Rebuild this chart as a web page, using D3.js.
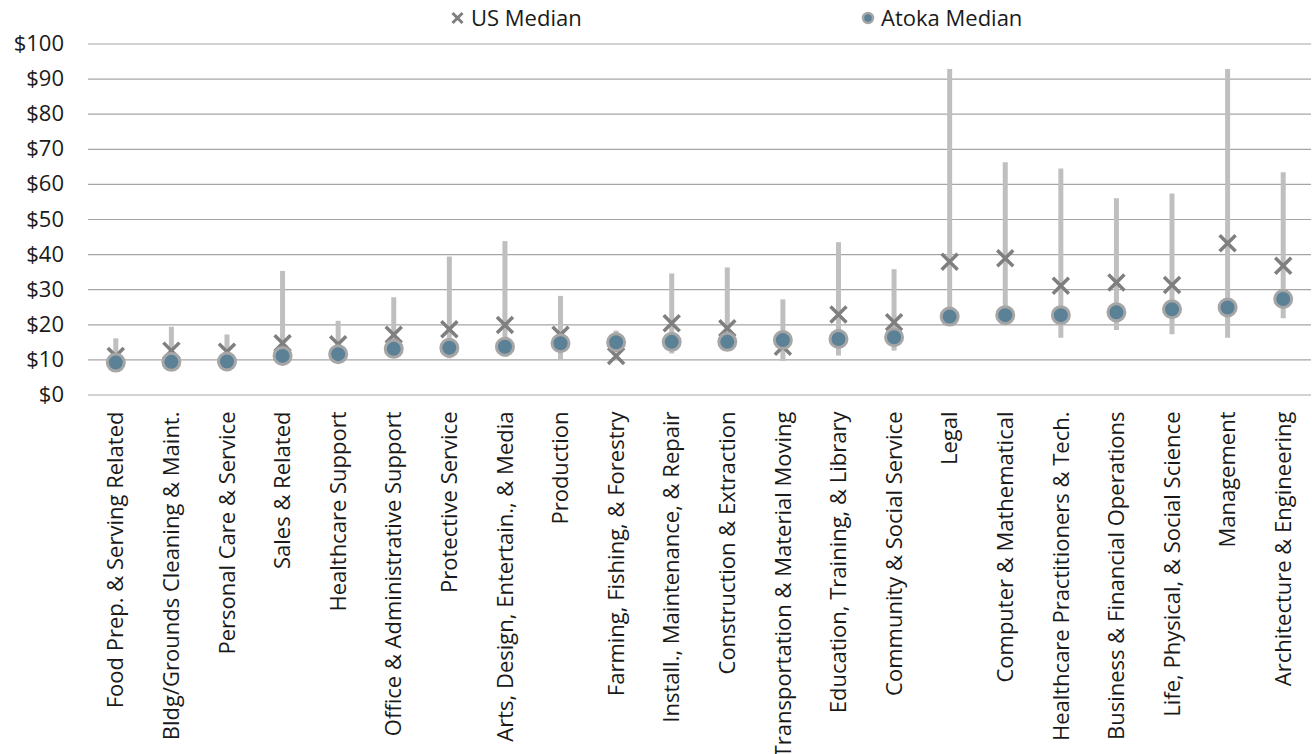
<!DOCTYPE html>
<html>
<head>
<meta charset="utf-8">
<script src="https://cdn.jsdelivr.net/npm/d3@7"></script>
<style>
  html, body { margin: 0; padding: 0; background: #fff; }
  text { font-family: "Open Sans", Lato, sans-serif; fill: #1a1a1a; }
</style>
</head>
<body>
<svg id="chart" width="1312" height="754"></svg>
<script>
// occupation groups, ordered by Atoka median
const categories = [
  "Food Prep. & Serving Related", "Bldg/Grounds Cleaning & Maint.", "Personal Care & Service",
  "Sales & Related", "Healthcare Support", "Office & Administrative Support", "Protective Service",
  "Arts, Design, Entertain., & Media", "Production", "Farming, Fishing, & Forestry",
  "Install., Maintenance, & Repair", "Construction & Extraction", "Transportation & Material Moving",
  "Education, Training, & Library", "Community & Social Service", "Legal", "Computer & Mathematical",
  "Healthcare Practitioners & Tech.", "Business & Financial Operations",
  "Life, Physical, & Social Science", "Management", "Architecture & Engineering"
]
// hourly wage range (low / high), US median, Atoka median
const rangeLow  = [8.5, 8.8, 9.0, 10.0, 10.5, 11.5, 10.3, 10.8, 10.0, 12.0, 11.7, 13.0, 9.6, 11.1, 12.5, 20.0, 20.0, 16.2, 18.4, 17.2, 16.2, 21.7]
const rangeHigh = [16.0, 19.3, 17.1, 35.2, 21.0, 27.7, 39.3, 43.7, 28.1, 18.2, 34.5, 36.2, 27.1, 43.4, 35.7, 92.7, 66.2, 64.4, 55.9, 57.3, 92.7, 63.3]
const usMedian  = [11.0, 12.5, 12.2, 14.6, 14.3, 17.0, 18.6, 19.8, 17.0, 11.0, 20.3, 18.9, 13.6, 22.8, 20.6, 37.8, 38.8, 31.0, 31.9, 31.2, 43.1, 36.7]
const atokaMedian = [9.1, 9.3, 9.4, 11.0, 11.5, 13.0, 13.3, 13.6, 14.6, 14.9, 15.0, 15.0, 15.5, 15.8, 16.3, 22.2, 22.6, 22.6, 23.4, 24.3, 24.8, 27.2]
const yTicks = [0, 10, 20, 30, 40, 50, 60, 70, 80, 90, 100]

const width = 1312
const height = 754
const marginLeft = 88
const marginRight = 1
const marginTop = 43.5
const plotBottom = 394.5
const fontFamily = '"Open Sans", sans-serif'
const fontSize = 22

const data = categories.map((c, i) => ({
  name: c, low: rangeLow[i], high: rangeHigh[i], us: usMedian[i], atoka: atokaMedian[i]
}))

const svg = d3.select("#chart")

const xScale = d3.scaleBand()
    .domain(categories)
    .range([marginLeft, width - marginRight])

const yScale = d3.scaleLinear()
    .domain([0, 100])
    .range([plotBottom, marginTop])

// gridlines + y labels
const yAxis = svg.append("g")
    .attr("transform", `translate(${marginLeft},0)`)
    .call(d3.axisLeft(yScale)
        .tickValues(yTicks)
        .tickSize(-(width - marginLeft - marginRight))
        .tickPadding(24)
        .tickFormat(d => "$" + d))
yAxis.select(".domain").remove()
yAxis.selectAll(".tick line")
    .attr("stroke", "#a6a6a6")
    .attr("stroke-width", 1.2)
yAxis.selectAll(".tick text")
    .attr("font-size", fontSize)
    .attr("fill", "#1a1a1a")
    .style("font-family", fontFamily)

// x labels, rotated
const xAxis = svg.append("g")
    .attr("transform", `translate(0,${plotBottom})`)
    .call(d3.axisBottom(xScale).tickSize(0).tickPadding(0))
xAxis.select(".domain").remove()
xAxis.selectAll(".tick text")
    .attr("transform", "rotate(-90)")
    .attr("x", -17)
    .attr("y", 0)
    .attr("dy", "0.35em")
    .attr("text-anchor", "end")
    .attr("font-size", fontSize)
    .attr("fill", "#1a1a1a")
    .style("font-family", fontFamily)

const cx = d => xScale(d.name) + xScale.bandwidth() / 2

// wage range bars
svg.append("g").selectAll("line")
  .data(data)
  .join("line")
    .attr("x1", cx).attr("x2", cx)
    .attr("y1", d => yScale(d.low))
    .attr("y2", d => yScale(d.high))
    .attr("stroke", "#bfbfbf")
    .attr("stroke-width", 5)

// US median markers
const xSize = 8
svg.append("g").selectAll("path")
  .data(data)
  .join("path")
    .attr("d", d => {
      const x = cx(d), y = yScale(d.us)
      return `M${x - xSize},${y - xSize}L${x + xSize},${y + xSize}M${x - xSize},${y + xSize}L${x + xSize},${y - xSize}`
    })
    .attr("stroke", "#7f7f7f")
    .attr("stroke-width", 3.5)
    .attr("fill", "none")

// Atoka median markers
svg.append("g").selectAll("circle")
  .data(data)
  .join("circle")
    .attr("cx", cx)
    .attr("cy", d => yScale(d.atoka))
    .attr("r", 8.5)
    .attr("fill", "#5b8197")
    .attr("stroke", "#a6a6a6")
    .attr("stroke-width", 3)

// legend
const legend = svg.append("g")
legend.append("path")
    .attr("d", "M452.5,13L462.5,23M452.5,23L462.5,13")
    .attr("stroke", "#7f7f7f")
    .attr("stroke-width", 3)
legend.append("text")
    .attr("x", 471)
    .attr("y", 18)
    .attr("dy", "0.35em")
    .attr("font-size", fontSize)
    .text("US Median")
legend.append("circle")
    .attr("cx", 868)
    .attr("cy", 18)
    .attr("r", 5)
    .attr("fill", "#5b8197")
    .attr("stroke", "#a6a6a6")
    .attr("stroke-width", 2.5)
legend.append("text")
    .attr("x", 881)
    .attr("y", 18)
    .attr("dy", "0.35em")
    .attr("font-size", fontSize)
    .text("Atoka Median")
</script>
</body>
</html>
